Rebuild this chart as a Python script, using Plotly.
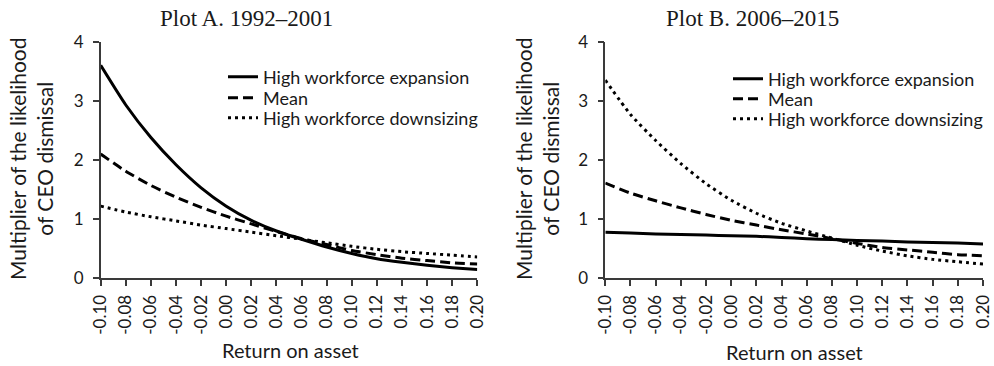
import plotly.graph_objects as go

roa = [-0.10, -0.08, -0.06, -0.04, -0.02, 0.00, 0.02, 0.04,
       0.06, 0.08, 0.10, 0.12, 0.14, 0.16, 0.18, 0.20]
tick_labels = ["-0.10", "-0.08", "-0.06", "-0.04", "-0.02", "0.00", "0.02", "0.04",
               "0.06", "0.08", "0.10", "0.12", "0.14", "0.16", "0.18", "0.20"]

# Plot A. 1992-2001
a_expansion = [3.60, 2.93, 2.38, 1.92, 1.53, 1.22, 0.98, 0.80,
               0.66, 0.53, 0.42, 0.33, 0.27, 0.22, 0.18, 0.15]
a_mean = [2.10, 1.81, 1.57, 1.37, 1.20, 1.05, 0.92, 0.79,
          0.67, 0.57, 0.47, 0.40, 0.34, 0.30, 0.26, 0.24]
a_downsizing = [1.22, 1.12, 1.04, 0.97, 0.90, 0.84, 0.78, 0.72,
                0.66, 0.60, 0.54, 0.49, 0.45, 0.42, 0.39, 0.36]

# Plot B. 2006-2015
b_expansion = [0.78, 0.765, 0.75, 0.74, 0.73, 0.72, 0.71, 0.69,
               0.67, 0.655, 0.64, 0.63, 0.615, 0.605, 0.595, 0.58]
b_mean = [1.61, 1.44, 1.31, 1.19, 1.08, 0.98, 0.90, 0.82,
          0.75, 0.67, 0.59, 0.52, 0.48, 0.44, 0.40, 0.38]
b_downsizing = [3.35, 2.77, 2.33, 1.94, 1.60, 1.32, 1.10, 0.93,
                0.80, 0.68, 0.56, 0.46, 0.38, 0.32, 0.28, 0.24]

series_names = ["High workforce expansion", "Mean", "High workforce downsizing"]
dashes = ["solid", "10px,5px", "3px,4px"]

W, H = 994, 366
FONT = "Lato, 'Liberation Sans', sans-serif"
SERIF = "'Liberation Serif', 'Times New Roman', serif"
TXT = "#1a1a1a"
AX = "#3a3a3a"


def px_x(p):
    return p / W


def px_y(p):
    return 1 - p / H


fig = go.Figure()

# one legend per entry so that each row sits exactly where it does in the reference
legend_rows = [
    ("legend", 223, 77), ("legend2", 223, 98), ("legend3", 223, 118),
    ("legend4", 728, 79), ("legend5", 728, 99), ("legend6", 728, 119),
]

panels = [
    ("x", "y", [a_expansion, a_mean, a_downsizing]),
    ("x2", "y2", [b_expansion, b_mean, b_downsizing]),
]
k = 0
for xa, ya, data in panels:
    for name, vals, dsh in zip(series_names, data, dashes):
        fig.add_trace(go.Scatter(
            x=roa, y=vals, mode="lines", name=name,
            line=dict(color="black", width=3, dash=dsh, shape="spline", smoothing=0.6),
            xaxis=xa, yaxis=ya, legend=legend_rows[k][0], showlegend=True,
        ))
        k += 1

ydom = [px_y(278.3), px_y(41.7)]

xaxis_common = dict(
    range=[-0.10, 0.20], tickmode="array", tickvals=roa, ticktext=tick_labels,
    tickangle=-90, ticks="outside", ticklen=6, tickwidth=1.5, tickcolor=AX,
    showline=True, linecolor=AX, linewidth=1.5, showgrid=False, zeroline=False,
    tickfont=dict(family=FONT, size=17, color=TXT), ticklabelstandoff=2,
    fixedrange=True, automargin=False,
)
yaxis_common = dict(
    range=[0, 4], tickmode="array", tickvals=[0, 1, 2, 3, 4],
    ticks="outside", ticklen=6, tickwidth=1.5, tickcolor=AX,
    showline=True, linecolor=AX, linewidth=1.5, showgrid=False, zeroline=False,
    tickfont=dict(family=FONT, size=17, color=TXT), ticklabelstandoff=6,
    fixedrange=True, automargin=False,
)

layout_legends = {}
for lname, lx, ly in legend_rows:
    layout_legends[lname] = dict(
        x=px_x(lx), y=px_y(ly), xanchor="left", yanchor="middle",
        font=dict(family=FONT, size=18, color=TXT), bgcolor="rgba(0,0,0,0)",
        itemwidth=30, borderwidth=0,
    )

fig.update_layout(
    width=W, height=H, margin=dict(l=0, r=0, t=0, b=0, autoexpand=False),
    paper_bgcolor="white", plot_bgcolor="white",
    xaxis=dict(domain=[px_x(100.7), px_x(477.3)], anchor="y", **xaxis_common),
    yaxis=dict(domain=ydom, anchor="x", **yaxis_common),
    xaxis2=dict(domain=[px_x(605.3), px_x(983)], anchor="y2", **xaxis_common),
    yaxis2=dict(domain=ydom, anchor="x2", **yaxis_common),
    showlegend=True,
    **layout_legends,
)

annotations = [
    dict(text="Plot A. 1992–2001", x=px_x(246), y=px_y(18),
         font=dict(family=SERIF, size=23, color=TXT)),
    dict(text="Plot B. 2006–2015", x=px_x(752), y=px_y(18),
         font=dict(family=SERIF, size=23, color=TXT)),
    dict(text="Multiplier of the likelihood<br>of CEO dismissal", x=px_x(31), y=px_y(159),
         textangle=-90, font=dict(family=FONT, size=21, color=TXT)),
    dict(text="Multiplier of the likelihood<br>of CEO dismissal", x=px_x(537), y=px_y(159),
         textangle=-90, font=dict(family=FONT, size=21, color=TXT)),
    dict(text="Return on asset", x=px_x(290), y=px_y(350),
         font=dict(family=FONT, size=20, color=TXT)),
    dict(text="Return on asset", x=px_x(794), y=px_y(352),
         font=dict(family=FONT, size=20, color=TXT)),
]
for a in annotations:
    a.update(xref="paper", yref="paper", showarrow=False,
             xanchor="center", yanchor="middle")
fig.update_layout(annotations=annotations)

fig.write_html("out.html")
